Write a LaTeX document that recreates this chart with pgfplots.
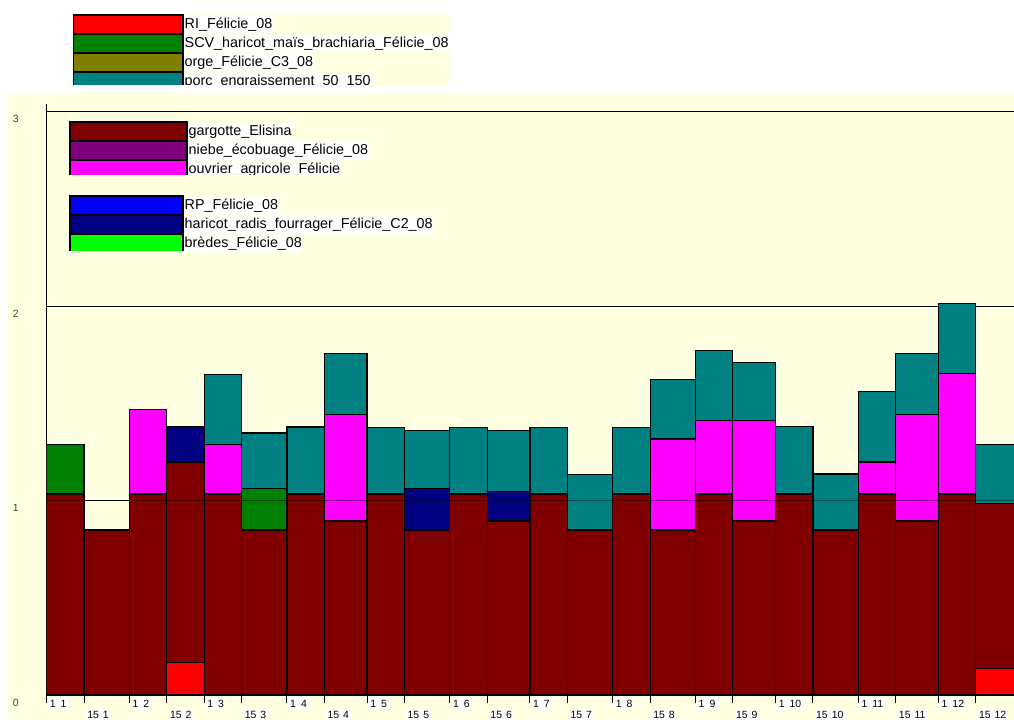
\documentclass[border=0pt]{standalone}
\usepackage{fontspec}
\setmainfont{Liberation Sans}
\usepackage{pgfplots}
\pgfplotsset{compat=1.18}
\usepackage{pgfplotstable}
\definecolor{cream}{HTML}{FFFFE1}
\definecolor{cRI}{HTML}{FF0000}
\definecolor{cSCV}{HTML}{008000}
\definecolor{cOrge}{HTML}{808000}
\definecolor{cPorc}{HTML}{008080}
\definecolor{cGarg}{HTML}{800000}
\definecolor{cNiebe}{HTML}{800080}
\definecolor{cOuv}{HTML}{FF00FF}
\definecolor{cRP}{HTML}{0000FF}
\definecolor{cHar}{HTML}{000080}
\definecolor{cBred}{HTML}{00FF00}

% x = day of year at the start of each half-month period
% each column = top of that layer of the stack (layers from bottom:
% RI, gargotte, haricot radis, SCV, ouvrier agricole, porc)
\pgfplotstableread{
x   ri    garg   har    scv    ouv    porc
0   0     1.034  1.034  1.290  1.290  1.290
14  0     0.849  0.849  0.849  0.849  0.849
31  0     1.034  1.034  1.034  1.470  1.470
45  0.168 1.199  1.380  1.380  1.380  1.380
59  0     1.034  1.034  1.034  1.290  1.650
73  0     0.849  0.849  1.061  1.061  1.348
90  0     1.034  1.034  1.034  1.034  1.379
104 0     0.895  0.895  0.895  1.442  1.758
120 0     1.034  1.034  1.034  1.034  1.377
134 0     0.849  1.061  1.061  1.061  1.362
151 0     1.034  1.034  1.034  1.034  1.377
165 0     0.895  1.048  1.048  1.048  1.362
181 0     1.034  1.034  1.034  1.034  1.377
195 0     0.849  0.849  0.849  0.849  1.135
212 0     1.034  1.034  1.034  1.034  1.377
226 0     0.849  0.849  0.849  1.317  1.622
243 0     1.034  1.034  1.034  1.413  1.773
257 0     0.895  0.895  0.895  1.413  1.711
273 0     1.034  1.034  1.034  1.034  1.380
287 0     0.849  0.849  0.849  0.849  1.137
304 0     1.034  1.034  1.034  1.199  1.560
318 0     0.895  0.895  0.895  1.442  1.758
334 0     1.034  1.034  1.034  1.653  2.015
348 0.137 0.986  0.986  0.986  0.986  1.290
365 0     0      0      0      0      0
}\data

\tikzset{lgnode/.style={anchor=west, fill=white, inner xsep=0.5bp, inner ysep=1.5bp,
  text height=10.5bp, text depth=3bp, font=\fontsize{14.4}{16}\selectfont}}

\begin{document}
\begin{tikzpicture}[x=1bp,y=1bp]
\path[use as bounding box] (0,0) rectangle (1014,720);
\fill[cream] (8,0) rectangle (1014,626);
\fill[cream] (73,635) rectangle (450,706);

\begin{axis}[
  at={(46.7bp,25bp)}, anchor=south west,
  scale only axis, width=967.3bp, height=590.98bp,
  xmin=0, xmax=362.3, ymin=0, ymax=3.04,
  enlargelimits=false,
  axis x line*=bottom, axis y line*=left,
  x axis line style={line width=3bp, -},
  y axis line style={line width=1.5bp, -},
  ytick={0,1,2,3},
  ymajorgrids, major grid style={black, line width=1bp},
  ytick style={draw=none},
  /pgf/number format/assume math mode=true,
  yticklabel style={anchor=west, inner sep=0pt, xshift=-26bp, yshift=-7.5bp,
     font=\fontsize{10.5}{12}\selectfont, text=black!75},
  xtick={0,31,59,90,120,151,181,212,243,273,304,334},
  xticklabels={1\hspace{5bp}1,1\hspace{5bp}2,1\hspace{5bp}3,1\hspace{5bp}4,1\hspace{5bp}5,1\hspace{5bp}6,1\hspace{5bp}7,1\hspace{5bp}8,1\hspace{5bp}9,1\hspace{5bp}10,1\hspace{5bp}11,1\hspace{5bp}12},
  extra x ticks={14,45,73,104,134,165,195,226,257,287,318,348},
  extra x tick labels={15\hspace{4bp}1,15\hspace{4bp}2,15\hspace{4bp}3,15\hspace{4bp}4,15\hspace{4bp}5,15\hspace{4bp}6,15\hspace{4bp}7,15\hspace{4bp}8,15\hspace{4bp}9,15\hspace{4bp}10,15\hspace{4bp}11,15\hspace{4bp}12},
  tick align=outside, major tick length=8bp,
  xtick style={black, line width=1bp},
  xticklabel style={anchor=north west, fill=white, inner xsep=1.5bp, inner ysep=1.5bp,
     text height=8bp, text depth=1bp, yshift=5bp, xshift=1.5bp,
     font=\fontsize{10.5}{12}\selectfont, text=black},
  extra x tick style={grid=none, tick style={black, line width=1bp}, major tick length=8bp,
     xticklabel style={yshift=-10.5bp}},
  every axis plot/.append style={draw=black, line width=1.2bp},
]
\addplot[ybar interval, fill=cPorc] table[x=x, y=porc] {\data};
\addplot[ybar interval, fill=cOuv]  table[x=x, y=ouv]  {\data};
\addplot[ybar interval, fill=cSCV]  table[x=x, y=scv]  {\data};
\addplot[ybar interval, fill=cHar]  table[x=x, y=har]  {\data};
\addplot[ybar interval, fill=cGarg] table[x=x, y=garg] {\data};
\addplot[ybar interval, fill=cRI]   table[x=x, y=ri]   {\data};
\draw[black, opacity=0.45, line width=1bp] (axis cs:0,1) -- (axis cs:362.3,1);
\end{axis}

% top legend
\begin{scope}
\clip (73,635) rectangle (450,706);
\draw[fill=cRI, line width=1.5bp]   (73,705) rectangle (183,686);
\draw[fill=cSCV, line width=1.5bp]  (73,686) rectangle (183,667);
\draw[fill=cOrge, line width=1.5bp] (73,667) rectangle (183,648);
\draw[fill=cPorc, line width=1.5bp] (73,648) rectangle (183,629);
\node[lgnode] at (184,695.5) {RI\_Félicie\_08};
\node[lgnode] at (184,676.5) {SCV\_haricot\_maïs\_brachiaria\_Félicie\_08};
\node[lgnode] at (184,657.5) {orge\_Félicie\_C3\_08};
\node[lgnode] at (184,638.5) {porc\_engraissement\_50\_150};
\end{scope}

% inner legend, group 1
\begin{scope}
\clip (60,545) rectangle (500,600);
\draw[fill=cGarg, line width=1.5bp]  (70,598) rectangle (187,579);
\draw[fill=cNiebe, line width=1.5bp] (70,579) rectangle (187,560);
\draw[fill=cOuv, line width=1.5bp]   (70,560) rectangle (187,541);
\node[lgnode] at (188,588.5) {gargotte\_Elisina};
\node[lgnode] at (188,569.5) {niebe\_écobuage\_Félicie\_08};
\node[lgnode] at (188,550.5) {ouvrier\_agricole\_Félicie};
\end{scope}

% inner legend, group 2
\begin{scope}
\clip (60,469) rectangle (500,526);
\draw[fill=cRP, line width=1.5bp]   (70,524) rectangle (183,505);
\draw[fill=cHar, line width=1.5bp]  (70,505) rectangle (183,486);
\draw[fill=cBred, line width=1.5bp] (70,486) rectangle (183,467);
\node[lgnode] at (184,514.5) {RP\_Félicie\_08};
\node[lgnode] at (184,495.5) {haricot\_radis\_fourrager\_Félicie\_C2\_08};
\node[lgnode] at (184,476.5) {brèdes\_Félicie\_08};
\end{scope}
\end{tikzpicture}
\end{document}
